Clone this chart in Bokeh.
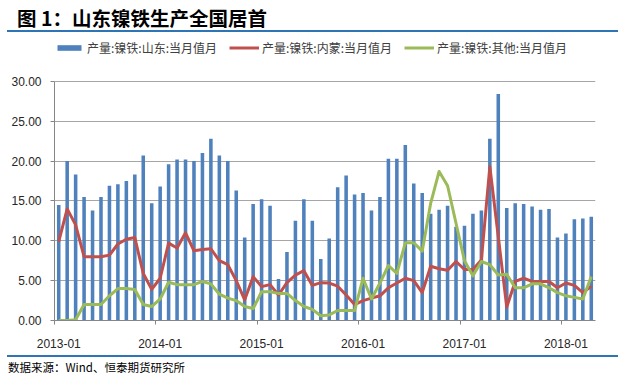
from bokeh.plotting import figure
from bokeh.layouts import column
from bokeh.models import (Range1d, FixedTicker, NumeralTickFormatter, Legend, LegendItem,
                          ColumnDataSource, Div)
from bokeh.embed import file_html
from bokeh.resources import INLINE

# ---------------- data ----------------
months = [f"{y}-{m:02d}" for y in range(2013, 2019) for m in range(1, 13)][:64]

shandong = [14.5, 20.0, 18.3, 15.5, 13.8, 15.5, 16.9, 17.1, 17.5, 18.3, 20.7, 14.7,
            16.8, 19.6, 20.2, 20.2, 20.0, 21.0, 22.8, 20.7, 20.0, 16.3, 10.4, 14.6,
            15.2, 14.4, 5.2, 8.6, 12.5, 15.2, 12.5, 7.7, 10.3, 16.7, 18.2, 15.8,
            16.0, 13.8, 15.5, 20.3, 20.3, 22.0, 17.2, 16.0, 13.4, 13.9, 14.4, 11.75,
            11.9, 13.4, 13.8, 22.8, 28.4, 14.1, 14.7, 14.6, 14.3, 13.9, 14.0, 10.4,
            10.9, 12.7, 12.8, 13.0]

neimeng = [9.9, 14.0, 12.0, 8.0, 8.0, 8.0, 8.2, 9.6, 10.2, 10.4, 5.9, 3.9,
           5.3, 9.7, 9.1, 11.0, 8.75, 8.9, 9.0, 7.5, 7.0, 5.0, 2.6, 5.5,
           4.25, 4.5, 3.2, 4.75, 5.7, 6.25, 4.4, 4.75, 4.7, 4.3, 3.2, 2.0,
           2.5, 2.8, 3.1, 4.1, 4.7, 5.3, 5.0, 3.5, 6.8, 6.5, 6.3, 7.4,
           6.4, 6.4, 7.6, 19.3, 10.5, 1.7, 4.9, 5.3, 4.9, 4.9, 4.9, 4.1,
           4.7, 4.4, 3.5, 4.3]

qita = [0.0, 0.0, 0.1, 2.0, 2.0, 2.0, 3.1, 4.0, 4.0, 3.9, 2.0, 1.75,
        2.7, 4.8, 4.5, 4.5, 4.5, 4.9, 4.6, 3.3, 2.8, 2.5, 1.75, 1.5,
        3.6, 3.6, 3.4, 3.4, 2.5, 1.75, 1.4, 0.6, 0.7, 1.25, 1.25, 1.25,
        5.3, 2.7, 4.7, 6.9, 5.9, 9.75, 9.75, 8.7, 14.7, 18.7, 16.9, 12.2,
        7.5, 5.6, 7.4, 7.0, 5.7, 5.8, 4.1, 4.1, 4.6, 4.6, 4.1, 3.5,
        3.1, 2.9, 2.7, 5.5]

series_labels = ["产量:镍铁:山东:当月值月", "产量:镍铁:内蒙:当月值月", "产量:镍铁:其他:当月值月"]
y_ticks = [0, 5, 10, 15, 20, 25, 30]
title_text = "图 1：山东镍铁生产全国居首"
source_text = "数据来源：Wind、恒泰期货研究所"

# ---------------- styling ----------------
CJK = "'Noto Sans CJK SC'"
LAT = "Liberation Sans"
RULE = "#2e75b6"
W = 620

src = ColumnDataSource(dict(i=list(range(len(months))), month=months,
                            sd=shandong, nm=neimeng, qt=qita))

# title band (text + rule)
head = Div(text=(f"<div style=\"margin-left:7px;width:611px;height:32px;box-sizing:border-box;"
                 f"padding-top:8px;padding-left:10px;font-family:{CJK};font-size:19.5px;"
                 f"font-weight:bold;line-height:20px;color:#000;white-space:nowrap;"
                 f"border-bottom:2px solid {RULE};\">{title_text}</div>"),
           width=W, height=32, margin=0)

# main chart; frame extends above 30 to host the legend
p = figure(width=W, height=318, x_range=Range1d(-0.5, 63.5), y_range=Range1d(0, 35.625),
           output_backend="svg", toolbar_location=None,
           min_border_left=54, min_border_right=25, min_border_top=4, min_border_bottom=29)
p.outline_line_color = None
p.background_fill_color = "white"

bars = p.vbar(x="i", top="sd", width=0.42, source=src, fill_color="#4f81bd", line_color=None)
red = p.line(x="i", y="nm", source=src, line_color="#c0504d", line_width=3, line_join="round")
green = p.line(x="i", y="qt", source=src, line_color="#9bbb59", line_width=3, line_join="round")

major = [i for i in range(0, len(months), 12)]
p.xaxis.ticker = FixedTicker(ticks=major, minor_ticks=[m - 0.5 for m in major])
p.xaxis.major_label_overrides = {m: months[m] for m in major}
p.xaxis.major_tick_line_color = None
p.xaxis.major_tick_out = 0
p.xaxis.major_tick_in = 0
p.xaxis.minor_tick_out = 4
p.xaxis.minor_tick_in = 0
p.xaxis.minor_tick_line_color = "#868686"
p.xaxis.axis_line_color = "#868686"
p.xaxis.major_label_standoff = 14

p.yaxis.ticker = FixedTicker(ticks=y_ticks)
p.yaxis.formatter = NumeralTickFormatter(format="0.00")
p.yaxis.bounds = (0, 30)
p.yaxis.major_tick_out = 4
p.yaxis.major_tick_in = 0
p.yaxis.minor_tick_line_color = None
p.yaxis.major_tick_line_color = "#868686"
p.yaxis.axis_line_color = "#868686"
p.yaxis.major_label_standoff = 9

for ax in (p.xaxis[0], p.yaxis[0]):
    ax.major_label_text_font = LAT
    ax.major_label_text_font_size = "12px"
    ax.major_label_text_color = "#262626"

p.xgrid.grid_line_color = None
p.ygrid.grid_line_color = "#a6a6a6"
p.ygrid.grid_line_width = 1

legend = Legend(items=[LegendItem(label=series_labels[0], renderers=[bars]),
                       LegendItem(label=series_labels[1], renderers=[red]),
                       LegendItem(label=series_labels[2], renderers=[green])],
                orientation="horizontal", location=(0, 264),
                padding=0, margin=0, spacing=10, label_standoff=3,
                glyph_width=30, glyph_height=7, label_width=132, label_height=12,
                label_text_font="Noto Sans CJK SC", label_text_font_size="12px",
                label_text_color="#404040",
                border_line_color=None, background_fill_alpha=0)
p.add_layout(legend, "center")

# source band (rule + text)
foot = Div(text=(f"<div style=\"margin-left:7px;width:611px;margin-top:5px;"
                 f"border-top:2px solid {RULE};padding-top:3px;padding-left:1px;"
                 f"font-family:{CJK};font-size:11.5px;line-height:14px;color:#000;"
                 f"white-space:nowrap;\">{source_text}</div>"),
           width=W, height=26, margin=0)

layout = column(head, p, foot, spacing=0)
open("out.html", "w").write(file_html(layout, INLINE))
